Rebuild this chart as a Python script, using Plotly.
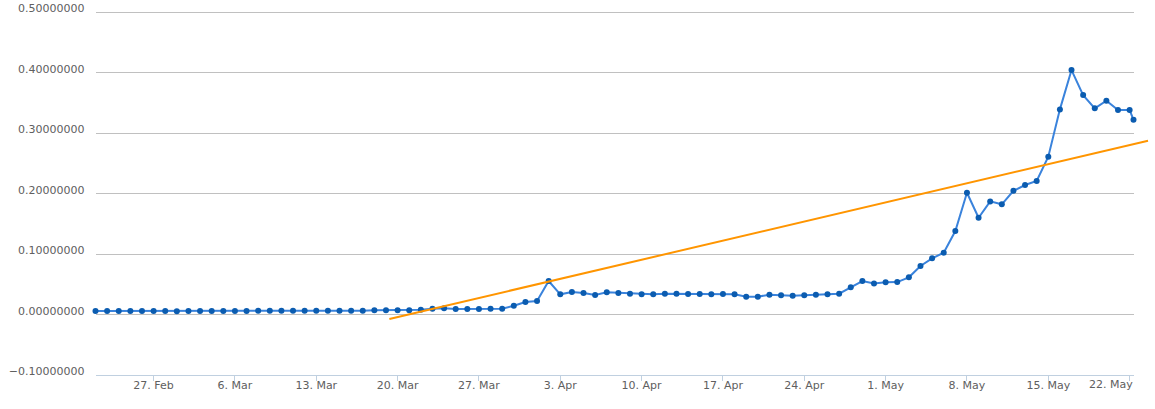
import pandas as pd
import plotly.graph_objects as go

# ---- data ----
dates = [d.strftime("%Y-%m-%d %H:%M") for d in pd.date_range("2017-02-22", "2017-05-22", freq="D")] + ["2017-05-22 08:00"]

values = [
    0.0062, 0.0062, 0.0062, 0.0061, 0.0062, 0.0061, 0.0062, 0.0058, 0.0063, 0.0063,
    0.0063, 0.0063, 0.0063, 0.0063, 0.0064, 0.0064, 0.0064, 0.0066, 0.0066, 0.0066,
    0.0066, 0.0066, 0.0066, 0.0066, 0.0072, 0.0072, 0.0072, 0.0072, 0.0083, 0.0099,
    0.0105, 0.0094, 0.0094, 0.0094, 0.0099, 0.0099, 0.0149, 0.0210, 0.0226, 0.0557,
    0.0337, 0.0375, 0.0359, 0.0326, 0.0370, 0.0359, 0.0347, 0.0337, 0.0337, 0.0347,
    0.0347, 0.0342, 0.0342, 0.0337, 0.0342, 0.0337, 0.0298, 0.0298, 0.0331, 0.0321,
    0.0314, 0.0321, 0.0331, 0.0337, 0.0347, 0.0453, 0.0557, 0.0516, 0.0536, 0.0540,
    0.0618, 0.0805, 0.0932, 0.1025, 0.1383, 0.2017, 0.1603, 0.1874, 0.1825, 0.2048,
    0.2144, 0.2210, 0.2612, 0.3395, 0.4045, 0.3631, 0.3412, 0.3537, 0.3384, 0.3384,
    0.3223,
]

trend_dates = ["2017-03-19 07:00", "2017-05-23 14:00"]
trend_values = [-0.0071, 0.2876]

tick_dates = ["2017-02-27", "2017-03-06", "2017-03-13", "2017-03-20", "2017-03-27",
              "2017-04-03", "2017-04-10", "2017-04-17", "2017-04-24", "2017-05-01",
              "2017-05-08", "2017-05-15", "2017-05-22"]
tick_labels = ["27. Feb", "6. Mar", "13. Mar", "20. Mar", "27. Mar", "3. Apr", "10. Apr",
               "17. Apr", "24. Apr", "1. May", "8. May", "15. May", "22. May"]

y_ticks = [-0.1, 0.0, 0.1, 0.2, 0.3, 0.4, 0.5]

# ---- layout geometry ----
W, H = 1155, 409
left_px, right_px = 95.5, 1133.5
top_px, bottom_px = 12.3, 375.2
px_per_unit = (bottom_px - top_px) / 0.6

x0 = pd.Timestamp(dates[0])
x1 = pd.Timestamp(dates[-1])
span = x1 - x0
x2_end = x0 + span * ((W - left_px) / (right_px - left_px))
fmt = "%Y-%m-%d %H:%M"

pad = 0.003
y_range = [-0.1, 0.5 + pad]
ydom = [(H - bottom_px) / H, (H - top_px + pad * px_per_unit) / H]

font = dict(family="DejaVu Sans, Verdana, sans-serif", size=11, color="#606060")

# last tick label is kept inside the plot edge (as the reference does)
axis_ticktext = tick_labels[:-1] + [""]

fig = go.Figure()
fig.add_trace(go.Scatter(
    x=dates, y=values, mode="lines+markers",
    line=dict(color="#3a83dc", width=2),
    marker=dict(color="#0b5cb0", size=6),
    xaxis="x", yaxis="y", showlegend=False, cliponaxis=False,
))
fig.add_trace(go.Scatter(
    x=trend_dates, y=trend_values, mode="lines",
    line=dict(color="#FF9500", width=2),
    xaxis="x2", yaxis="y2", showlegend=False,
))

fig.add_annotation(
    x=x1.strftime(fmt), xref="x", xanchor="right",
    y=ydom[0], yref="paper", yanchor="top", yshift=-2,
    text=tick_labels[-1], showarrow=False, font=font, borderpad=0,
)

fig.update_layout(
    width=W, height=H,
    margin=dict(l=0, r=0, t=0, b=0),
    paper_bgcolor="white", plot_bgcolor="rgba(0,0,0,0)",
    font=font,
    xaxis=dict(
        domain=[left_px / W, right_px / W], range=[x0.strftime(fmt), x1.strftime(fmt)], type="date",
        showgrid=False, zeroline=False, showline=True, linecolor="#C0D0E0", linewidth=1,
        ticks="outside", ticklen=5, tickcolor="#C0D0E0",
        tickvals=tick_dates, ticktext=axis_ticktext, tickfont=font, anchor="y",
        ticklabelstandoff=-5, automargin=False,
    ),
    yaxis=dict(
        domain=ydom, range=y_range, tickvals=y_ticks, tickformat=".8f",
        showgrid=True, gridcolor="#C0C0C0", gridwidth=1, zeroline=False,
        showline=False, ticks="", tickfont=font, anchor="x",
        ticklabelstandoff=10, ticklabelshift=-4, automargin=False,
    ),
    xaxis2=dict(
        domain=[left_px / W, 1.0], range=[x0.strftime(fmt), x2_end.strftime(fmt)], type="date",
        visible=False, anchor="y2",
    ),
    yaxis2=dict(
        domain=ydom, range=y_range, visible=False, anchor="x2",
    ),
)

fig.write_html("out.html")
